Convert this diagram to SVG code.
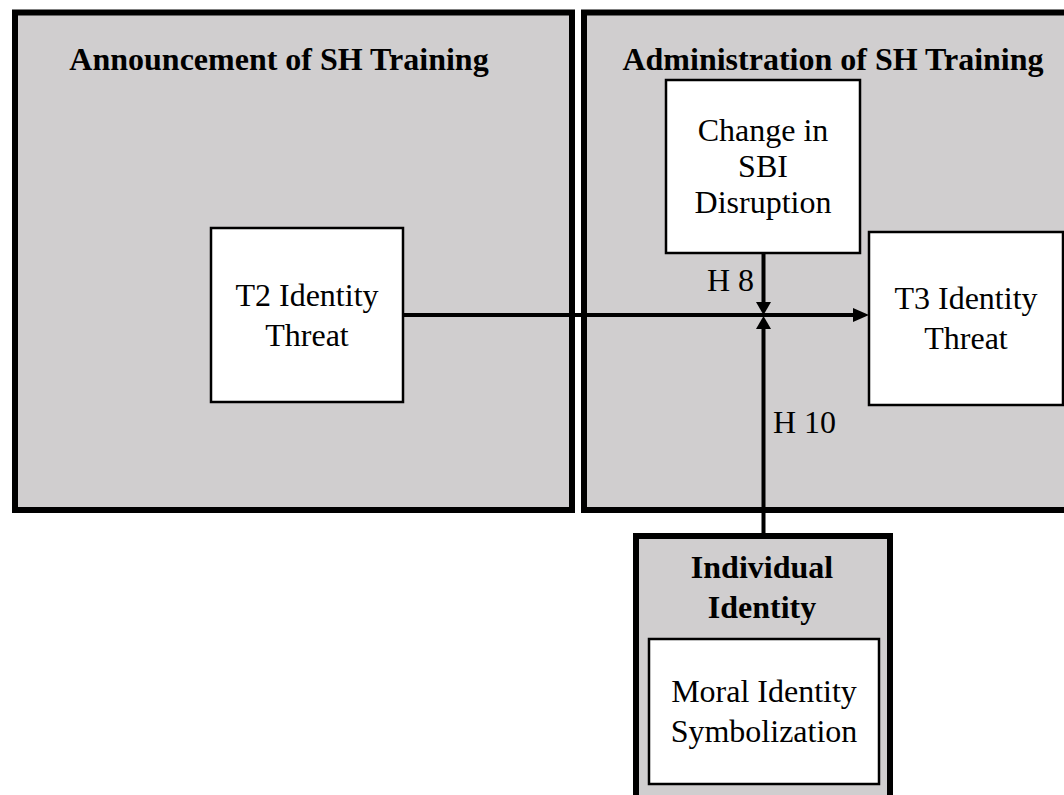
<svg xmlns="http://www.w3.org/2000/svg" width="1064" height="795" viewBox="0 0 1064 795">
  <style>
    .panel { fill: #d0cecf; stroke: #000; stroke-width: 6; }
    .box { fill: #fff; stroke: #000; stroke-width: 2.5; }
    .title { font-family: "Liberation Serif", "Times New Roman", serif; font-size: 32px; font-weight: bold; fill: #000; text-anchor: middle; }
    .label { font-family: "Liberation Serif", "Times New Roman", serif; font-size: 32px; fill: #000; text-anchor: middle; }
    .hyp { font-family: "Liberation Serif", "Times New Roman", serif; font-size: 32px; fill: #000; }
    .wire { stroke: #000; stroke-width: 4; fill: none; }
    .head { fill: #000; }
  </style>
  <rect width="1064" height="795" fill="#fff"/>

  <!-- Phase panels -->
  <g id="announcement">
    <rect class="panel" x="15" y="12.5" width="557" height="497.5"/>
    <text class="title" x="279" y="70">Announcement of SH Training</text>
  </g>
  <g id="administration">
    <rect class="panel" x="584" y="12.5" width="490" height="497.5"/>
    <text class="title" x="833" y="70">Administration of SH Training</text>
  </g>

  <!-- Constructs -->
  <g id="t2-threat">
    <rect class="box" x="211" y="228" width="192" height="174"/>
    <text class="label" x="307" y="306">T2 Identity</text>
    <text class="label" x="307" y="346">Threat</text>
  </g>
  <g id="sbi-disruption">
    <rect class="box" x="666" y="80" width="194" height="173"/>
    <text class="label" x="763" y="141">Change in</text>
    <text class="label" x="763" y="177">SBI</text>
    <text class="label" x="763" y="213">Disruption</text>
  </g>
  <g id="t3-threat">
    <rect class="box" x="869" y="232" width="194" height="173"/>
    <text class="label" x="966" y="309">T3 Identity</text>
    <text class="label" x="966" y="349">Threat</text>
  </g>
  <g id="individual-identity">
    <rect class="panel" x="636" y="536" width="254" height="270"/>
    <text class="title" x="762" y="578">Individual</text>
    <text class="title" x="762" y="618">Identity</text>
    <g id="moral-identity">
      <rect class="box" x="649" y="639" width="230" height="145"/>
      <text class="label" x="764" y="702">Moral Identity</text>
      <text class="label" x="764" y="742">Symbolization</text>
    </g>
  </g>

  <!-- Paths and moderator arrows -->
  <g id="connectors">
    <line class="wire" x1="403" y1="315" x2="855" y2="315"/>
    <polygon class="head" points="853,308 869,315 853,322"/>
    <line class="wire" x1="763.5" y1="253" x2="763.5" y2="303"/>
    <polygon class="head" points="756,302 771,302 763.5,315"/>
    <line class="wire" x1="763.5" y1="533" x2="763.5" y2="328"/>
    <polygon class="head" points="756,329 771,329 763.5,316"/>
    <text class="hyp" x="707" y="291">H 8</text>
    <text class="hyp" x="773" y="433">H 10</text>
  </g>
</svg>
